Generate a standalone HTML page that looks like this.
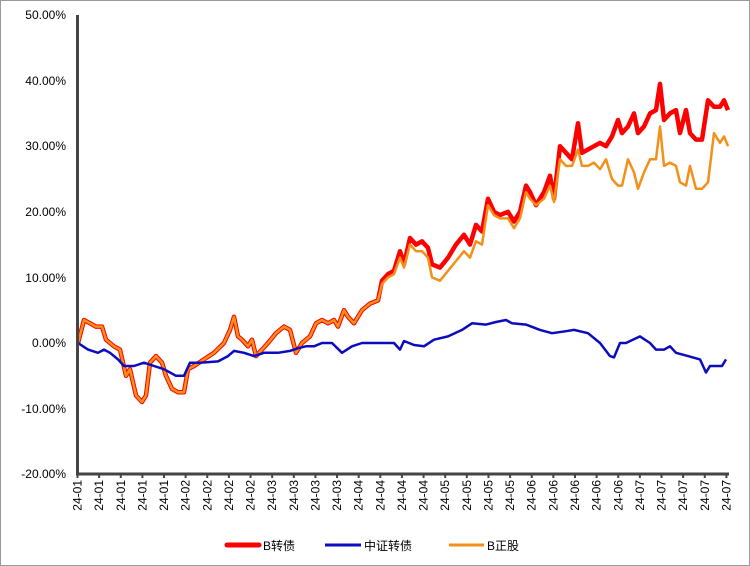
<!DOCTYPE html>
<html><head><meta charset="utf-8"><style>
html,body{margin:0;padding:0;background:#fff}
svg{display:block}
text{font-family:"Liberation Sans","Noto Sans CJK SC",sans-serif;font-size:12px;fill:#000}
</style></head><body>
<svg id="s" width="750" height="566" xmlns="http://www.w3.org/2000/svg">
<rect x="0.5" y="0.5" width="749" height="565" fill="#fff" stroke="#999"/>
<g text-anchor="end">
<text x="66" y="19">50.00%</text>
<text x="66" y="85">40.00%</text>
<text x="66" y="150">30.00%</text>
<text x="66" y="216">20.00%</text>
<text x="66" y="282">10.00%</text>
<text x="66" y="347">0.00%</text>
<text x="66" y="413">-10.00%</text>
<text x="66" y="478">-20.00%</text>
</g>
<g id="ticks" stroke="#444" stroke-width="2"></g>
<g id="xl"></g>
<polyline id="red" fill="none" stroke="#f00" stroke-width="4.5" stroke-linejoin="round"/>
<polyline id="org" fill="none" stroke="#f39019" stroke-width="2.5" stroke-linejoin="round"/>
<polyline id="blu" fill="none" stroke="#0b0bbf" stroke-width="2.5" stroke-linejoin="round"/>
<line x1="77.5" y1="15" x2="77.5" y2="475" stroke="#444" stroke-width="3"/>
<line x1="76" y1="474" x2="729" y2="474" stroke="#444" stroke-width="3"/>
<g>
<line x1="227" y1="545" x2="259" y2="545" stroke="#f00" stroke-width="5" stroke-linecap="round"/>
<text x="263" y="550">B转债</text>
<line x1="325" y1="545" x2="361" y2="545" stroke="#0b0bbf" stroke-width="3"/>
<text x="364" y="550">中证转债</text>
<line x1="449" y1="545" x2="484" y2="545" stroke="#f39019" stroke-width="3"/>
<text x="487" y="550">B正股</text>
</g>
<g id="labels">
<text>24-01</text><text>24-01</text><text>24-01</text><text>24-01</text><text>24-01</text>
<text>24-02</text><text>24-02</text><text>24-02</text><text>24-02</text>
<text>24-03</text><text>24-03</text><text>24-03</text><text>24-03</text>
<text>24-04</text><text>24-04</text><text>24-04</text><text>24-04</text>
<text>24-05</text><text>24-05</text><text>24-05</text><text>24-05</text>
<text>24-06</text><text>24-06</text><text>24-06</text><text>24-06</text><text>24-06</text>
<text>24-07</text><text>24-07</text><text>24-07</text><text>24-07</text><text>24-07</text>
</g>
</svg>
<script>
var Y=v=>343-v*6.56;
var labs=document.querySelectorAll('#labels text'),tk=document.getElementById('ticks');
labs.forEach(function(t,i){var x=77.5+i*21.63;t.setAttribute('transform','translate('+(x+4)+',480) rotate(-90)');t.setAttribute('text-anchor','end');
var l=document.createElementNS('http://www.w3.org/2000/svg','line');l.setAttribute('x1',x);l.setAttribute('x2',x);l.setAttribute('y1',474);l.setAttribute('y2',478);tk.appendChild(l);});
function set(id,a){var s=[];for(var i=0;i<a.length;i+=2)s.push(a[i]+','+Y(a[i+1]).toFixed(1));document.getElementById(id).setAttribute('points',s.join(' '));}
var red=[78,0,84,3.5,90,3,96,2.5,102,2.5,106,0.5,114,-0.5,120,-1,126,-5,130,-4,136,-8,142,-9,146,-8,150,-3,156,-2,162,-3,166,-5,172,-7,178,-7.5,184,-7.5,188,-4,194,-3.5,204,-2.5,214,-1.5,224,0,230,2,234,4,238,1,242,0.5,248,-0.5,252,0.5,256,-2,262,-1,268,0,276,1.5,284,2.5,290,2,296,-1.5,302,0,310,1,316,3,322,3.5,328,3,334,3.5,338,2.5,344,5,348,4,354,3,362,5,370,6,378,6.5,382,9.5,388,10.5,394,11,400,14,404,12,410,16,416,15,422,15.5,428,14.5,432,12,440,11.5,448,13,456,15,464,16.5,470,15,476,18,482,17,488,22,494,20,500,19.5,508,20,514,18.5,520,20,526,24,530,23,536,21,544,23,550,25.5,554,22,560,30,566,29,572,28,578,33.5,582,29,588,29.5,594,30,600,30.5,606,30,612,31.5,618,34,622,32,628,33,634,35,638,32,644,33,650,35,656,35.5,660,39.5,664,34,670,35,676,35.5,680,32,686,35.5,690,32,696,31,702,31,708,37,714,36,720,36,724,37,728,35.5];
var org=red.slice();
var od={400:13,410:15,416:14,422:14,428:13,432:10,440:9.5,448:11,456:12.5,464:14,470:13,476:15.5,482:15,488:21,494:19.5,500:19,508:19,514:17.5,520:19,526:23,530:22,536:21,544:22,550:24,554:21.5,560:28,566:27,572:27,578:29.5,582:27,588:27,594:27.5,600:26.5,606:28,612:25,618:24,622:24,628:28,634:26,638:23.5,644:26,650:28,656:28,660:33,664:27,670:27.5,676:27,680:24.5,686:24,690:27,696:23.5,702:23.5,708:24.5,714:32,720:30.5,724:31.5,728:30};
for(var i=0;i<org.length;i+=2){if(od[org[i]]!==undefined)org[i+1]=od[org[i]];else if(org[i]>=382)org[i+1]-=0.5;}
var blu=[78,0,88,-1,98,-1.5,104,-1,110,-1.5,118,-2.5,124,-3.5,134,-3.5,144,-3,154,-3.5,164,-4,176,-5,184,-5,190,-3,200,-3,218,-2.8,228,-2,234,-1.2,244,-1.5,254,-2,264,-1.5,278,-1.5,290,-1.2,298,-0.8,306,-0.5,314,-0.5,322,0,332,0,342,-1.5,352,-0.5,362,0,374,0,384,0,394,0,400,-1,404,0.3,414,-0.3,424,-0.5,434,0.5,448,1,462,2,472,3,486,2.8,496,3.2,506,3.5,512,3,526,2.8,540,2,552,1.5,566,1.8,574,2,588,1.5,600,0,610,-2,614,-2.2,620,0,626,0,640,1,650,0,656,-1,664,-1,670,-0.5,676,-1.5,688,-2,700,-2.5,706,-4.5,710,-3.5,722,-3.5,726,-2.5];
set('red',red);set('org',org);set('blu',blu);
</script>
</body></html>
